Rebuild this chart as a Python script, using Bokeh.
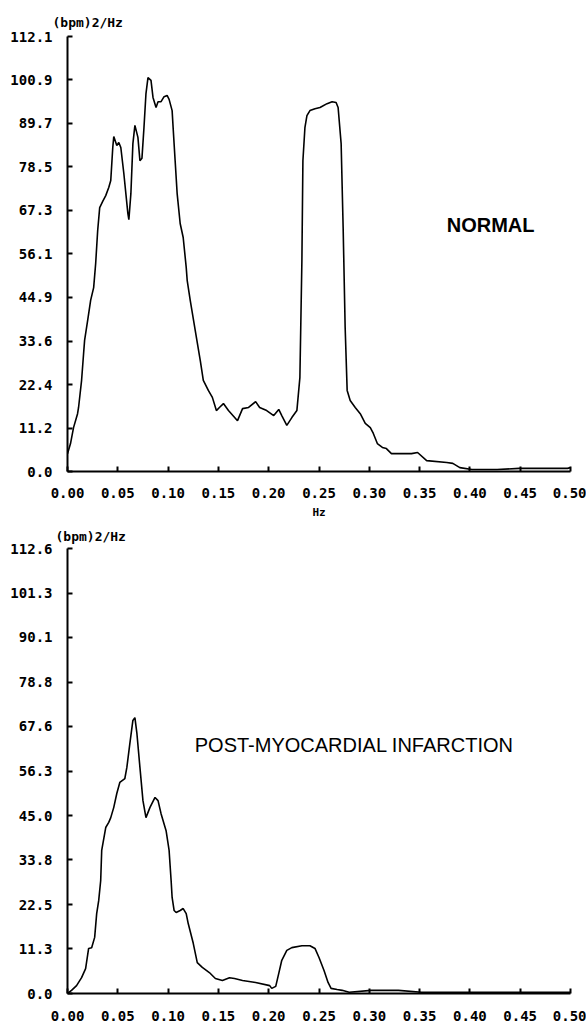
from bokeh.plotting import figure
from bokeh.layouts import column
from bokeh.models import Range1d, FixedTicker, PrintfTickFormatter, Label
from bokeh.embed import file_html
from bokeh.resources import INLINE

# ---- data: NORMAL spectrum ----
normal_hz = [0.000, 0.003, 0.006, 0.010, 0.011, 0.014, 0.016, 0.017, 0.020, 0.023,
             0.026, 0.028, 0.030, 0.032, 0.035, 0.038, 0.041, 0.043, 0.045, 0.046,
             0.049, 0.051, 0.053, 0.056, 0.060, 0.061, 0.063, 0.065, 0.067, 0.070,
             0.072, 0.074, 0.076, 0.078, 0.080, 0.083, 0.085, 0.088, 0.090, 0.093,
             0.096, 0.099, 0.101, 0.104, 0.105, 0.107, 0.109, 0.112, 0.115, 0.118,
             0.119, 0.122, 0.127, 0.132, 0.135, 0.140, 0.144, 0.148, 0.151, 0.155,
             0.160, 0.169, 0.174, 0.180, 0.187, 0.191, 0.198, 0.205, 0.210, 0.213,
             0.218, 0.223, 0.228, 0.231, 0.233, 0.234, 0.236, 0.238, 0.241, 0.246,
             0.251, 0.258, 0.263, 0.267, 0.269, 0.272, 0.274, 0.276, 0.278, 0.281,
             0.286, 0.291, 0.296, 0.301, 0.304, 0.308, 0.313, 0.317, 0.322, 0.327,
             0.342, 0.348, 0.357, 0.377, 0.383, 0.390, 0.402, 0.427, 0.449, 0.476,
             0.497, 0.500]
normal_psd = [4.6, 7.2, 11.3, 14.9, 16.5, 23.5, 30.4, 33.8, 38.9, 44.1,
              47.4, 53.6, 62.1, 68.0, 69.6, 71.1, 73.2, 75.0, 83.5, 86.3,
              84.0, 84.8, 83.5, 76.8, 66.5, 64.9, 71.6, 84.5, 89.2, 86.1,
              80.1, 80.7, 88.6, 97.4, 101.5, 100.8, 96.4, 93.8, 95.3, 95.3,
              96.6, 96.9, 95.9, 93.0, 88.6, 80.1, 71.6, 63.9, 60.3, 52.6,
              49.2, 44.1, 36.3, 28.6, 23.5, 20.9, 19.1, 15.7, 16.5, 17.5,
              15.7, 13.1, 16.2, 16.5, 18.0, 16.5, 15.7, 14.4, 16.0, 14.4,
              11.9, 13.9, 15.7, 24.2, 54.4, 80.1, 88.6, 91.7, 93.0, 93.5,
              93.8, 94.8, 95.3, 95.1, 93.8, 84.5, 62.9, 37.1, 20.9, 18.3,
              16.5, 14.9, 12.4, 11.3, 9.8, 7.2, 6.2, 5.9, 4.6, 4.6,
              4.6, 4.9, 2.8, 2.3, 2.1, 1.0, 0.5, 0.5, 0.8, 0.8,
              0.8, 1.0]

# ---- data: POST-MYOCARDIAL INFARCTION spectrum ----
mi_hz = [0.000, 0.004, 0.009, 0.014, 0.018, 0.021, 0.024, 0.027, 0.029, 0.031,
         0.033, 0.034, 0.038, 0.041, 0.043, 0.046, 0.049, 0.052, 0.057, 0.059,
         0.062, 0.065, 0.067, 0.069, 0.072, 0.075, 0.078, 0.082, 0.087, 0.090,
         0.093, 0.098, 0.101, 0.103, 0.104, 0.106, 0.108, 0.112, 0.115, 0.118,
         0.120, 0.125, 0.129, 0.134, 0.141, 0.147, 0.154, 0.161, 0.166, 0.174,
         0.187, 0.201, 0.203, 0.207, 0.210, 0.213, 0.218, 0.223, 0.233, 0.241,
         0.246, 0.250, 0.255, 0.259, 0.262, 0.268, 0.273, 0.280, 0.302, 0.329,
         0.352, 0.431, 0.500]
mi_psd = [0.0, 0.8, 2.0, 4.0, 6.3, 11.4, 11.6, 14.2, 20.2, 23.5,
          28.6, 36.2, 42.0, 43.3, 44.5, 47.1, 50.6, 53.4, 54.4, 57.2,
          63.3, 69.1, 69.8, 65.8, 57.2, 48.8, 44.5, 47.1, 49.6, 48.8,
          45.5, 41.2, 36.2, 28.6, 24.3, 21.0, 20.5, 21.0, 21.5, 20.2,
          17.7, 12.7, 7.8, 6.6, 5.3, 3.8, 3.3, 4.0, 3.8, 3.3,
          2.8, 2.0, 1.3, 1.8, 5.1, 8.4, 10.9, 11.6, 12.1, 12.1,
          11.4, 9.1, 5.8, 2.8, 1.3, 1.0, 0.8, 0.3, 0.8, 0.8,
          0.3, 0.3, 0.3]

# ---- axis ticks ----
x_ticks = [0.0, 0.05, 0.10, 0.15, 0.20, 0.25, 0.30, 0.35, 0.40, 0.45, 0.50]
normal_y_ticks = [0.0, 11.2, 22.4, 33.6, 44.9, 56.1, 67.3, 78.5, 89.7, 100.9, 112.1]
mi_y_ticks = [0.0, 11.3, 22.5, 33.8, 45.0, 56.3, 67.6, 78.8, 90.1, 101.3, 112.6]

unit_label = "(bpm)2/Hz"
normal_title = "NORMAL"
mi_title = "POST-MYOCARDIAL INFARCTION"

TICK_FONT = "DejaVu Sans Mono"


def make_fig(height, left, right, top, bottom, yticks, x_std, show_hz, title_gap, title_off):
    p = figure(width=586, height=height, output_backend="svg", toolbar_location=None,
               x_range=Range1d(0, 0.5), y_range=Range1d(0, yticks[-1]),
               min_border_left=left, min_border_right=right,
               min_border_top=top, min_border_bottom=bottom,
               title=unit_label)
    p.title.align = "left"
    p.title.offset = title_off
    p.title.standoff = title_gap
    p.title.text_font = TICK_FONT
    p.title.text_font_style = "bold"
    p.title.text_font_size = "13px"
    p.title.text_color = "black"
    p.outline_line_color = None
    p.grid.visible = False
    p.background_fill_color = "white"
    for ax in (p.xaxis[0], p.yaxis[0]):
        ax.axis_line_color = "black"
        ax.axis_line_width = 2
        ax.major_tick_in = 5
        ax.major_tick_out = 0
        ax.major_tick_line_width = 2
        ax.major_tick_line_color = "black"
        ax.minor_tick_line_color = None
        ax.major_label_text_font = TICK_FONT
        ax.major_label_text_font_style = "bold"
        ax.major_label_text_font_size = "14px"
        ax.major_label_text_color = "black"
    p.xaxis.ticker = FixedTicker(ticks=x_ticks)
    p.xaxis.formatter = PrintfTickFormatter(format="%.2f")
    p.xaxis.major_label_standoff = x_std
    p.yaxis.ticker = FixedTicker(ticks=yticks)
    p.yaxis.formatter = PrintfTickFormatter(format="%.1f")
    p.yaxis.major_label_standoff = 15
    if show_hz:
        p.xaxis.axis_label = "Hz"
        p.xaxis.axis_label_text_font = TICK_FONT
        p.xaxis.axis_label_text_font_style = "bold"
        p.xaxis.axis_label_text_font_size = "11px"
        p.xaxis.axis_label_text_color = "black"
        p.xaxis.axis_label_standoff = 5
    return p


# top: NORMAL
p1 = make_fig(521, 67, 15, 36, 50, normal_y_ticks, 16, True, 13, -15)
p1.line(normal_hz, normal_psd, line_color="black", line_width=1.6)
p1.add_layout(Label(x=0.377, y=63.4, text=normal_title, text_font="Liberation Sans",
                    text_font_style="bold", text_font_size="20px", text_color="black",
                    text_baseline="middle", text_align="left"))

# bottom: POST-MI
p2 = make_fig(506, 64, 16, 27, 34, mi_y_ticks, 17, False, 9, -12)
p2.line(mi_hz, mi_psd, line_color="black", line_width=1.6)
p2.add_layout(Label(x=0.1265, y=63.0, text=mi_title, text_font="Liberation Sans",
                    text_font_size="20px", text_color="black",
                    text_baseline="middle", text_align="left"))

layout = column(p1, p2, spacing=0)
open("out.html", "w").write(file_html(layout, INLINE))
